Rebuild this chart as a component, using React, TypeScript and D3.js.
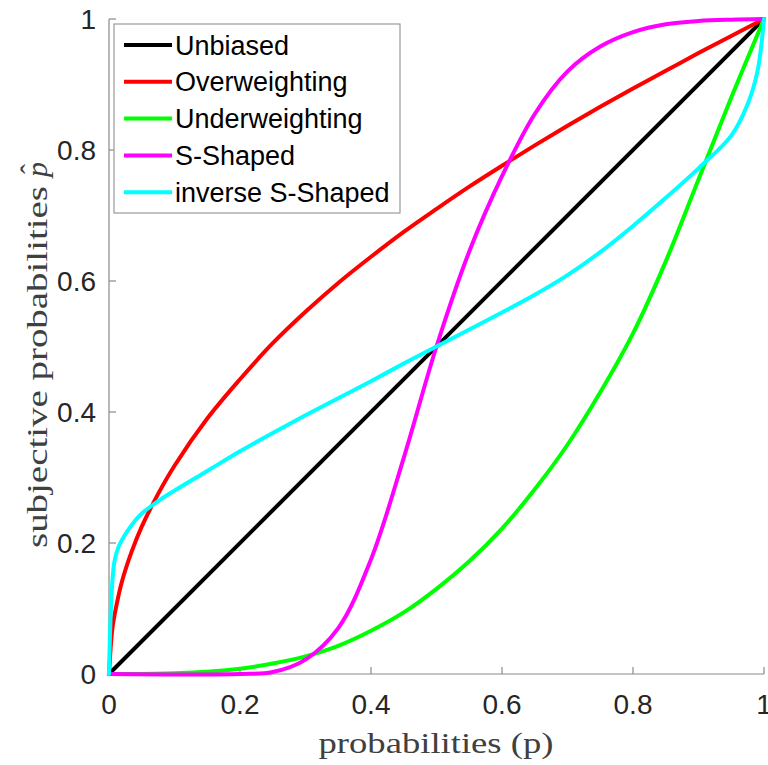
import React from "react";
import * as d3 from "d3";

const W = 768;
const H = 765;

const xTicks = [0, 0.2, 0.4, 0.6, 0.8, 1];
const yTicks = [0, 0.2, 0.4, 0.6, 0.8, 1];
const xTickLabels = ["0", "0.2", "0.4", "0.6", "0.8", "1"];
const yTickLabels = ["0", "0.2", "0.4", "0.6", "0.8", "1"];

const unbiasedP = [0, 1];
const unbiasedV = [0, 1];

const overP = [0, 0.005, 0.01, 0.02, 0.035, 0.05, 0.075, 0.1, 0.15, 0.2, 0.25, 0.3, 0.35, 0.4, 0.45, 0.5, 0.55, 0.6, 0.65, 0.7, 0.75, 0.8, 0.85, 0.9, 0.95, 1];
const overV = [0, 0.068, 0.098, 0.142, 0.188, 0.225, 0.275, 0.318, 0.39, 0.45, 0.505, 0.553, 0.597, 0.637, 0.675, 0.71, 0.744, 0.776, 0.807, 0.837, 0.866, 0.894, 0.921, 0.948, 0.974, 1];

const underP = [0, 0.1, 0.2, 0.25, 0.3, 0.35, 0.4, 0.45, 0.5, 0.55, 0.6, 0.65, 0.7, 0.75, 0.8, 0.85, 0.9, 0.95, 1];
const underV = [0, 0.001, 0.008, 0.016, 0.027, 0.043, 0.066, 0.094, 0.13, 0.172, 0.222, 0.282, 0.35, 0.43, 0.52, 0.63, 0.755, 0.88, 1];

const sP = [0, 0.2, 0.25, 0.3, 0.35, 0.4, 0.45, 0.5, 0.55, 0.6, 0.65, 0.7, 0.75, 0.8, 0.85, 0.9, 0.95, 1];
const sV = [0, 0, 0.003, 0.022, 0.07, 0.175, 0.33, 0.5, 0.645, 0.76, 0.855, 0.92, 0.958, 0.98, 0.992, 0.997, 0.999, 1];

const invP = [0, 0.008, 0.015, 0.035, 0.05, 0.078, 0.1, 0.15, 0.2, 0.25, 0.3, 0.35, 0.4, 0.45, 0.5, 0.55, 0.6, 0.65, 0.7, 0.75, 0.8, 0.85, 0.9, 0.95, 0.975, 0.99, 1];
const invV = [0, 0.17, 0.195, 0.228, 0.245, 0.266, 0.28, 0.31, 0.34, 0.368, 0.395, 0.421, 0.447, 0.474, 0.5, 0.526, 0.552, 0.579, 0.609, 0.644, 0.684, 0.727, 0.772, 0.822, 0.87, 0.92, 1];

const seriesNames = ["Unbiased", "Overweighting", "Underweighting", "S-Shaped", "inverse S-Shaped"];
const seriesColors = ["#000000", "#ff0000", "#00ff00", "#ff00ff", "#00ffff"];
const seriesP = [unbiasedP, overP, underP, sP, invP];
const seriesV = [unbiasedV, overV, underV, sV, invV];

const X0 = 109, X1 = 764, Y0 = 674, Y1 = 19;

export default function App() {
  const x = d3.scaleLinear().domain([0, 1]).range([X0, X1]);
  const y = d3.scaleLinear().domain([0, 1]).range([Y0, Y1]);
  const line = d3
    .line<[number, number]>()
    .x((d) => x(d[0]))
    .y((d) => y(d[1]))
    .curve(d3.curveCatmullRom.alpha(0.5));

  const tickLen = 7;
  const axisColor = "#8a8a8a";
  const labelColor = "#262626";
  const sans = "'Liberation Sans', Arial, sans-serif";
  const serif = "'Liberation Serif', 'DejaVu Serif', serif";

  const legX = 114, legY = 24, legW = 286, legH = 189;
  const rowY = (i: number) => 45 + i * 36.8;

  return (
    <svg width={W} height={H} style={{ position: "absolute", left: 0, top: 0, background: "#fff" }}>
      <rect x={0} y={0} width={W} height={H} fill="#fff" />
      <line x1={X0} x2={X1} y1={Y0} y2={Y0} stroke={axisColor} strokeWidth={1.2} />
      <line x1={X0} x2={X0} y1={Y0} y2={Y1} stroke={axisColor} strokeWidth={1.2} />
      {xTicks.map((t, i) => (
        <g key={"xt" + i}>
          <line x1={x(t)} x2={x(t)} y1={Y0} y2={Y0 - tickLen} stroke={axisColor} strokeWidth={1.2} />
          <text x={x(t)} y={714} textAnchor="middle" fontFamily={sans} fontSize={28} fill={labelColor}>
            {xTickLabels[i]}
          </text>
        </g>
      ))}
      {yTicks.map((t, i) => (
        <g key={"yt" + i}>
          <line x1={X0} x2={X0 + tickLen} y1={y(t)} y2={y(t)} stroke={axisColor} strokeWidth={1.2} />
          <text x={96} y={y(t) + 10} textAnchor="end" fontFamily={sans} fontSize={28} fill={labelColor}>
            {yTickLabels[i]}
          </text>
        </g>
      ))}
      {seriesP.map((ps, i) => {
        const pts: [number, number][] = ps.map((p, j) => [p, seriesV[i][j]]);
        return (
          <path
            key={"s" + i}
            d={line(pts) || ""}
            fill="none"
            stroke={seriesColors[i]}
            strokeWidth={4}
            strokeLinejoin="round"
            strokeLinecap="round"
          />
        );
      })}
      <text x={436} y={753} textAnchor="middle" fontFamily={serif} fontSize={30} fill="#404040" textLength={235} lengthAdjust="spacingAndGlyphs">
        probabilities (p)
      </text>
      <g transform="translate(47,346) rotate(-90)">
        <text x={-202} y={0} fontFamily={serif} fontSize={30} fill="#404040" textLength={362} lengthAdjust="spacingAndGlyphs">
          subjective probabilities
        </text>
        <text x={169} y={0} fontFamily={serif} fontSize={30} fontStyle="italic" fill="#404040">
          p
        </text>
        <text x={172} y={-6} fontFamily={serif} fontSize={30} fill="#404040">
          ˆ
        </text>
      </g>
      <rect x={legX} y={legY} width={legW} height={legH} fill="#fff" stroke="#9a9a9a" strokeWidth={1.2} />
      {seriesNames.map((n, i) => (
        <g key={"l" + i}>
          <line x1={124} x2={172} y1={rowY(i)} y2={rowY(i)} stroke={seriesColors[i]} strokeWidth={4} />
          <text x={175} y={rowY(i) + 9.5} fontFamily={sans} fontSize={27} fill="#000">
            {n}
          </text>
        </g>
      ))}
    </svg>
  );
}
